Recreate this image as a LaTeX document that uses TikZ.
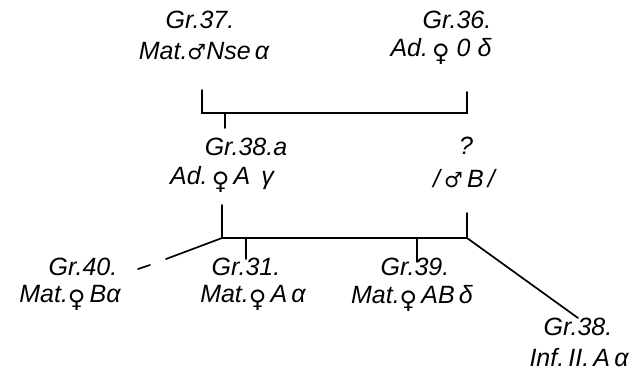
\documentclass[tikz,border=0pt]{standalone}
\usepackage{fontspec}
\setmainfont{Liberation Sans}
\newfontfamily\symfont{DejaVu Sans}
\newcommand{\fem}{\raisebox{-0.2em}{\symfont\fontsize{24}{24}\selectfont ♀}}
\newcommand{\mal}{{\symfont\fontsize{21}{21}\selectfont ♂}}
\begin{document}
\begin{tikzpicture}[x=1pt,y=-1pt,
  lbl/.style={inner sep=0pt,font=\fontsize{25}{25}\selectfont\itshape},
  ln/.style={line width=1.7pt,line cap=round}]
\useasboundingbox (0,0) rectangle (639,378);
% parents
\node[lbl] (g37) at (200,20) {Gr.37.};
\node[lbl] (m37) at (204,51) {Mat.\mal Nse\,α};
\node[lbl] (g36) at (457,20) {Gr.36.};
\node[lbl] (a36) at (441,51) {Ad.\,\fem\ 0 δ};
% middle generation
\node[lbl] (g38a) at (246,147) {Gr.38.a};
\node[lbl] (a38a) at (222,179) {Ad.\,\fem\,A\, γ};
\node[lbl] (q) at (466,146) {?};
\node[lbl] (mB) at (464,179) {/\,\mal\,B\,/};
% offspring
\node[lbl] (g40) at (83,267) {Gr.40.};
\node[lbl] (m40) at (70,298) {Mat.\fem\,Bα};
\node[lbl] (g31) at (246,267) {Gr.31.};
\node[lbl] (m31) at (253,298) {Mat.\fem\,A\,α};
\node[lbl] (g39) at (415,267) {Gr.39.};
\node[lbl] (m39) at (412,298) {Mat.\fem\,AB\,δ};
\node[lbl] (g38) at (578,327) {Gr.38.};
\node[lbl] (i38) at (579,358) {Inf.\,II.\,A\,α};
% junction points
\coordinate (p1) at (202,90);
\coordinate (p2) at (467,92);
\coordinate (h1) at (202,113);
\coordinate (h2) at (467,113);
\coordinate (s1) at (225,113);
\coordinate (s2) at (225,128);
\coordinate (c1) at (222,205);
\coordinate (c2) at (467,213);
\coordinate (b1) at (222,238);
\coordinate (b2) at (467,238);
\coordinate (t31) at (246,238);
\coordinate (t31e) at (246,259);
\coordinate (t39) at (417,238);
\coordinate (t39e) at (417,262);
\coordinate (d40) at (166,259);
\coordinate (e40a) at (150,265);
\coordinate (e40b) at (138,269);
\coordinate (d38) at (578,318);
% upper bracket
\draw[ln] (p1) -- (h1) -- (h2) -- (p2);
\draw[ln] (s1) -- (s2);
% lower bracket
\draw[ln] (c1) -- (b1) -- (b2) -- (c2);
\draw[ln] (t31) -- (t31e);
\draw[ln] (t39) -- (t39e);
\draw[ln] (b1) -- (d40);
\draw[ln] (e40a) -- (e40b);
\draw[ln] (b2) -- (d38);
\end{tikzpicture}
\end{document}
